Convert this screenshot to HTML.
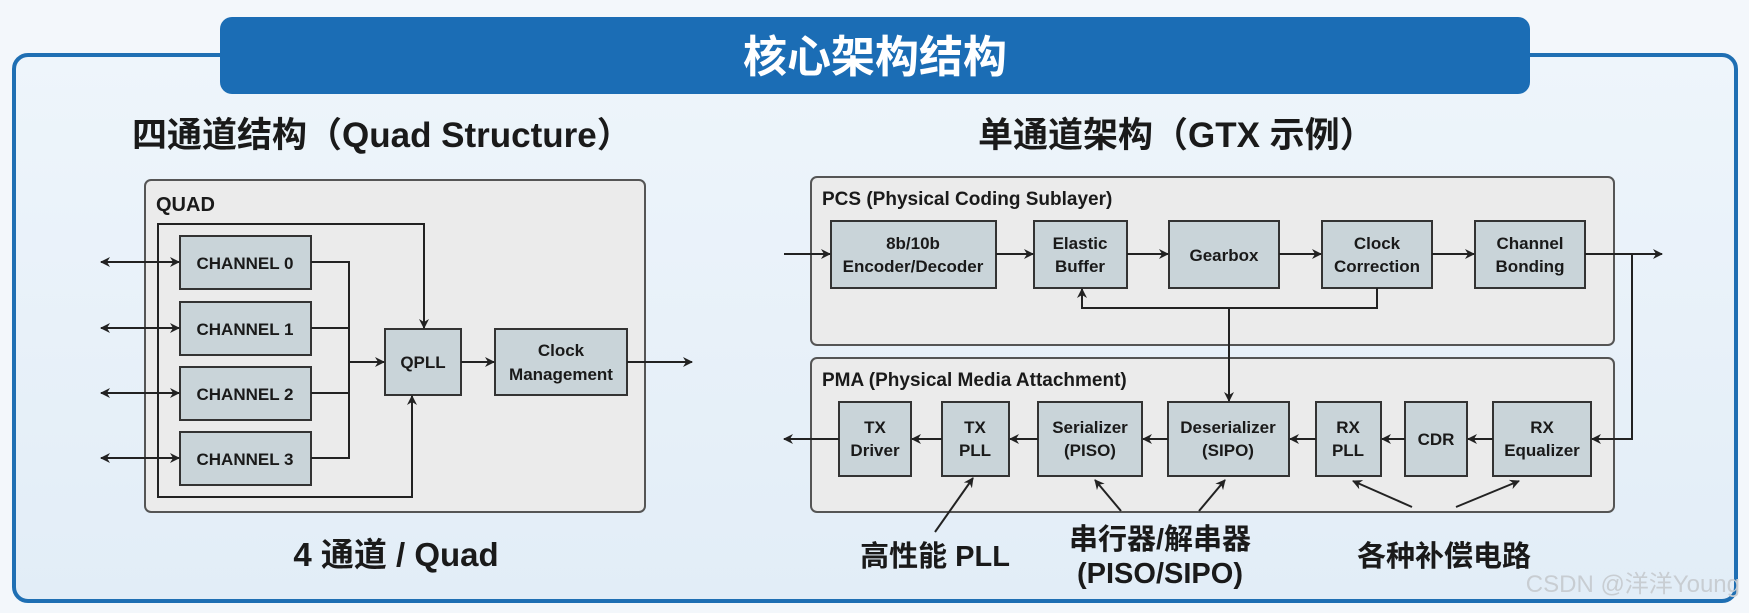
<!DOCTYPE html>
<html><head><meta charset="utf-8"><style>
html,body{margin:0;padding:0;background:#eef4fa;}
svg{display:block}
text{font-family:"Liberation Sans","Noto Sans CJK SC",sans-serif;font-weight:bold;fill:#1a1a1a}
.b{fill:#c9d4d9;stroke:#333;stroke-width:2}
.c{fill:#ebebeb;stroke:#555;stroke-width:2}
.l{stroke:#222;stroke-width:2;fill:none}
.t{font-size:17px;text-anchor:middle}
</style></head><body>
<svg width="1749" height="613" viewBox="0 0 1749 613" xmlns="http://www.w3.org/2000/svg">
<defs>
<linearGradient id="bg" x1="0" y1="0" x2="0" y2="1"><stop offset="0" stop-color="#eef5fb"/><stop offset="1" stop-color="#e2edf7"/></linearGradient>
<marker id="a" markerWidth="10" markerHeight="10" refX="9" refY="5" orient="auto" markerUnits="userSpaceOnUse"><path d="M0,0 L10,5 L0,10 L3,5 Z" fill="#222"/></marker>
<marker id="s" markerWidth="10" markerHeight="10" refX="1" refY="5" orient="auto" markerUnits="userSpaceOnUse"><path d="M10,0 L0,5 L10,10 L7,5 Z" fill="#222"/></marker>
</defs>
<rect width="1749" height="613" fill="#f3f7fb"/>
<rect x="14" y="55" width="1722" height="546" rx="14" fill="url(#bg)" stroke="#1f6fb3" stroke-width="4"/>
<rect x="220" y="17" width="1310" height="77" rx="12" fill="#1b6db5"/>
<text x="875" y="72" font-size="44" text-anchor="middle" style="fill:#fff">核心架构结构</text>
<text x="132" y="147" font-size="35">四通道结构（Quad Structure）</text>
<text x="978" y="147" font-size="35">单通道架构（GTX 示例）</text>

<!-- QUAD -->
<rect class="c" x="145" y="180" width="500" height="332" rx="6"/>
<text x="156" y="211" font-size="20">QUAD</text>
<g>
<rect class="b" x="180" y="236" width="131" height="53"/><text class="t" x="245" y="269">CHANNEL 0</text>
<rect class="b" x="180" y="302" width="131" height="53"/><text class="t" x="245" y="335">CHANNEL 1</text>
<rect class="b" x="180" y="367" width="131" height="53"/><text class="t" x="245" y="400">CHANNEL 2</text>
<rect class="b" x="180" y="432" width="131" height="53"/><text class="t" x="245" y="465">CHANNEL 3</text>
<rect class="b" x="385" y="329" width="76" height="66"/><text class="t" x="423" y="368">QPLL</text>
<rect class="b" x="495" y="329" width="132" height="66"/><text class="t" x="561" y="356">Clock</text><text class="t" x="561" y="380">Management</text>
</g>
<path class="l" marker-start="url(#s)" marker-end="url(#a)" d="M101,262 H179"/>
<path class="l" marker-start="url(#s)" marker-end="url(#a)" d="M101,328 H179"/>
<path class="l" marker-start="url(#s)" marker-end="url(#a)" d="M101,393 H179"/>
<path class="l" marker-start="url(#s)" marker-end="url(#a)" d="M101,458 H179"/>
<path class="l" d="M311,262 H349 V458 H311 M311,328 H349 M311,393 H349"/>
<path class="l" marker-end="url(#a)" d="M349,362 H384"/>
<path class="l" marker-end="url(#a)" d="M158,490 V224 H424 V328"/>
<path class="l" marker-end="url(#a)" d="M158,490 V497 H412 V396"/>
<path class="l" marker-end="url(#a)" d="M461,362 H494"/>
<path class="l" marker-end="url(#a)" d="M627,362 H692"/>
<text x="396" y="566" font-size="33" text-anchor="middle">4 通道 / Quad</text>

<!-- PCS -->
<rect class="c" x="811" y="177" width="803" height="168" rx="6"/>
<text x="822" y="205" font-size="19">PCS (Physical Coding Sublayer)</text>
<rect class="b" x="831" y="221" width="165" height="67"/><text class="t" x="913" y="249">8b/10b</text><text class="t" x="913" y="272">Encoder/Decoder</text>
<rect class="b" x="1034" y="221" width="93" height="67"/><text class="t" x="1080" y="249">Elastic</text><text class="t" x="1080" y="272">Buffer</text>
<rect class="b" x="1169" y="221" width="110" height="67"/><text class="t" x="1224" y="261">Gearbox</text>
<rect class="b" x="1322" y="221" width="110" height="67"/><text class="t" x="1377" y="249">Clock</text><text class="t" x="1377" y="272">Correction</text>
<rect class="b" x="1475" y="221" width="110" height="67"/><text class="t" x="1530" y="249">Channel</text><text class="t" x="1530" y="272">Bonding</text>
<path class="l" marker-end="url(#a)" d="M784,254 H830"/>
<path class="l" marker-end="url(#a)" d="M996,254 H1033"/>
<path class="l" marker-end="url(#a)" d="M1127,254 H1168"/>
<path class="l" marker-end="url(#a)" d="M1279,254 H1321"/>
<path class="l" marker-end="url(#a)" d="M1432,254 H1474"/>
<path class="l" marker-end="url(#a)" d="M1585,254 H1662"/>
<path class="l" marker-end="url(#a)" d="M1377,288 V308 H1082 V289"/>

<!-- PMA -->
<rect class="c" x="811" y="358" width="803" height="154" rx="6"/>
<text x="822" y="386" font-size="19">PMA (Physical Media Attachment)</text>
<rect class="b" x="839" y="402" width="72" height="74"/><text class="t" x="875" y="433">TX</text><text class="t" x="875" y="456">Driver</text>
<rect class="b" x="942" y="402" width="67" height="74"/><text class="t" x="975" y="433">TX</text><text class="t" x="975" y="456">PLL</text>
<rect class="b" x="1038" y="402" width="104" height="74"/><text class="t" x="1090" y="433">Serializer</text><text class="t" x="1090" y="456">(PISO)</text>
<rect class="b" x="1168" y="402" width="121" height="74"/><text class="t" x="1228" y="433">Deserializer</text><text class="t" x="1228" y="456">(SIPO)</text>
<rect class="b" x="1316" y="402" width="65" height="74"/><text class="t" x="1348" y="433">RX</text><text class="t" x="1348" y="456">PLL</text>
<rect class="b" x="1405" y="402" width="62" height="74"/><text class="t" x="1436" y="445">CDR</text>
<rect class="b" x="1493" y="402" width="98" height="74"/><text class="t" x="1542" y="433">RX</text><text class="t" x="1542" y="456">Equalizer</text>
<path class="l" marker-end="url(#a)" d="M1229,308 V401"/>
<path class="l" marker-end="url(#a)" d="M1632,254 V439 H1592"/>
<path class="l" marker-end="url(#a)" d="M1493,439 H1468"/>
<path class="l" marker-end="url(#a)" d="M1405,439 H1382"/>
<path class="l" marker-end="url(#a)" d="M1316,439 H1290"/>
<path class="l" marker-end="url(#a)" d="M1168,439 H1143"/>
<path class="l" marker-end="url(#a)" d="M1038,439 H1010"/>
<path class="l" marker-end="url(#a)" d="M942,439 H912"/>
<path class="l" marker-end="url(#a)" d="M839,439 H784"/>

<path class="l" marker-end="url(#a)" d="M935,532 L973,478"/>
<path class="l" marker-end="url(#a)" d="M1121,511 L1095,480"/>
<path class="l" marker-end="url(#a)" d="M1199,511 L1225,480"/>
<path class="l" marker-end="url(#a)" d="M1412,507 L1353,481"/>
<path class="l" marker-end="url(#a)" d="M1456,507 L1519,481"/>
<text x="935" y="566" font-size="29" text-anchor="middle">高性能 PLL</text>
<text x="1160" y="549" font-size="29" text-anchor="middle">串行器/解串器</text>
<text x="1160" y="583" font-size="29" text-anchor="middle">(PISO/SIPO)</text>
<text x="1444" y="566" font-size="29" text-anchor="middle">各种补偿电路</text>
<text x="1740" y="592" font-size="24" text-anchor="end" style="fill:#c8cdd2;font-weight:normal">CSDN @洋洋Young</text>
</svg>
</body></html>
